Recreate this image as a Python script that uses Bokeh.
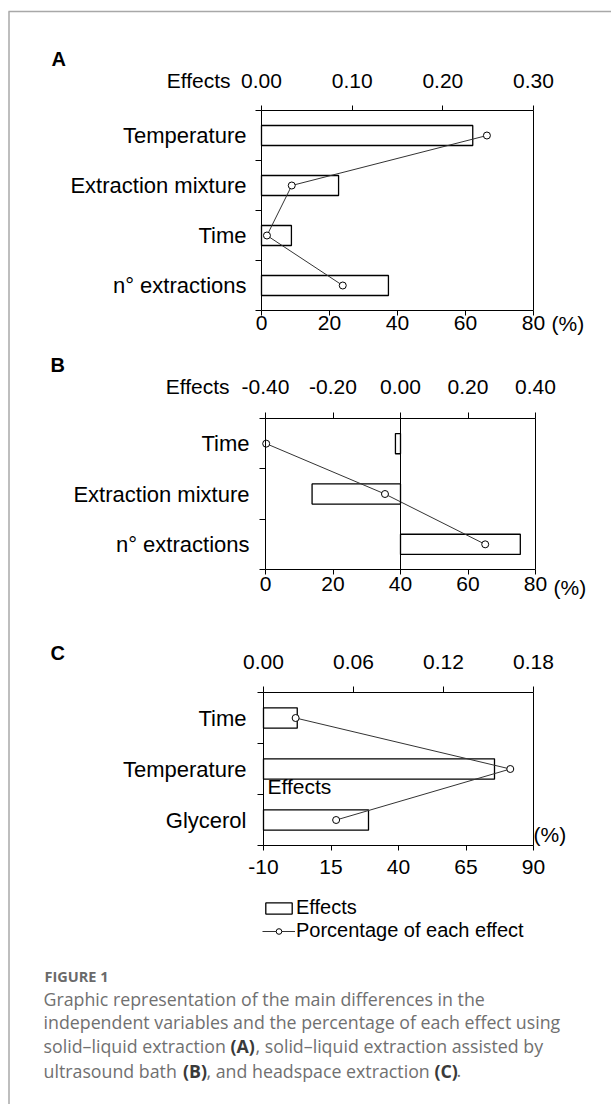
from bokeh.plotting import figure
from bokeh.models import (Range1d, LinearAxis, FixedTicker, Label, Legend,
                          LegendItem, NumeralTickFormatter)
from bokeh.embed import file_html
from bokeh.resources import INLINE

FONT = "Liberation Sans"
CAPFONT = "Open Sans"

# ---------------- data ----------------
a_factors = ["Temperature", "Extraction mixture", "Time", "n\u00b0 extractions"]
a_effects = [0.233, 0.085, 0.033, 0.140]
a_percent = [66.3, 8.9, 1.6, 23.9]
a_eff_ticks = [0.0, 0.1, 0.2, 0.3]
a_pct_ticks = [0, 20, 40, 60, 80]

b_factors = ["Time", "Extraction mixture", "n\u00b0 extractions"]
b_effects = [-0.015, -0.262, 0.355]
b_percent = [0.2, 35.4, 65.1]
b_eff_ticks = [-0.4, -0.2, 0.0, 0.2, 0.4]
b_pct_ticks = [0, 20, 40, 60, 80]

c_factors = ["Time", "Temperature", "Glycerol"]
c_effects = [0.0225, 0.154, 0.070]
c_percent = [1.9, 81.4, 16.9]
c_eff_ticks = [0.0, 0.06, 0.12, 0.18]
c_pct_ticks = [-10, 15, 40, 65, 90]

legend_labels = ["Effects", "Porcentage of each effect"]
caption_title = "FIGURE 1"
caption_lines = [
    "Graphic representation of the main differences in the",
    "independent variables and the percentage of each effect using",
]

# ---------------- canvas (page pixel space) ----------------
CW, CH = 611, 1104
p = figure(width=CW, height=CH, x_range=Range1d(0, CW), y_range=Range1d(CH, 0),
           x_axis_type=None, y_axis_type=None, min_border=0,
           min_border_left=0, min_border_right=0, min_border_top=0, min_border_bottom=0,
           output_backend="svg", toolbar_location=None, title=None)
p.xgrid.visible = False
p.ygrid.visible = False
p.outline_line_color = None
p.background_fill_color = "white"
p.border_fill_color = "white"

# page frame (decoration)
p.segment(x0=[8, 8.5], y0=[11, 11], x1=[CW, 8.5], y1=[11, CH],
          line_color="#a8a8a8", line_width=1.5)


def xmap(v0, v1, c0, c1):
    s = (v1 - v0) / (c1 - c0)
    return Range1d(v0 - c0 * s, v1 + (CW - c1) * s)


def ymap(v0, v1, c0, c1):
    s = (v1 - v0) / (c1 - c0)
    return Range1d(v0 + (CH - c0) * s, v0 - c0 * s)


def style_axis(ax, size="21px"):
    ax.axis_line_color = "black"
    ax.axis_line_width = 1
    ax.major_tick_line_color = "black"
    ax.minor_tick_line_color = "black"
    ax.major_tick_in = 0
    ax.minor_tick_in = 0
    ax.minor_tick_out = 0
    ax.major_label_text_font = FONT
    ax.major_label_text_font_size = size
    ax.major_label_text_color = "black"


def panel(key, factors, effects, percent, eff_ticks, pct_ticks,
          fx0, fx1, fy0, fy1, cat_standoff, top_standoff, bot_standoff, top_tick, bot_tick):
    n = len(factors)
    idx = list(range(n))
    xr, er, yr = key + "_pct", key + "_eff", key + "_y"
    p.extra_x_ranges[xr] = xmap(pct_ticks[0], pct_ticks[-1], fx0, fx1)
    p.extra_x_ranges[er] = xmap(eff_ticks[0], eff_ticks[-1], fx0, fx1)
    p.extra_y_ranges[yr] = ymap(-0.5, n - 0.5, fy0, fy1)

    # left category axis
    la = LinearAxis(x_range_name=xr, y_range_name=yr, fixed_location=pct_ticks[0],
                    bounds=(-0.5, n - 0.5),
                    ticker=FixedTicker(ticks=idx, minor_ticks=[i - 0.5 for i in range(n + 1)]),
                    major_label_overrides={i: f for i, f in zip(idx, factors)})
    style_axis(la, "22px")
    la.major_tick_out = 0
    la.minor_tick_out = 6
    la.major_label_standoff = cat_standoff
    p.add_layout(la, "left")

    # right frame edge
    ra = LinearAxis(x_range_name=xr, y_range_name=yr, fixed_location=pct_ticks[-1],
                    bounds=(-0.5, n - 0.5), ticker=FixedTicker(ticks=[], minor_ticks=[]))
    style_axis(ra)
    ra.major_tick_out = 0
    p.add_layout(ra, "right")

    # bottom percentage axis
    ba = LinearAxis(x_range_name=xr, y_range_name=yr, fixed_location=n - 0.5,
                    bounds=(pct_ticks[0], pct_ticks[-1]),
                    ticker=FixedTicker(ticks=pct_ticks, minor_ticks=[]),
                    formatter=NumeralTickFormatter(format="0"))
    style_axis(ba)
    ba.major_tick_out = bot_tick
    ba.major_label_standoff = bot_standoff
    p.add_layout(ba, "below")

    # top effects axis
    ta = LinearAxis(x_range_name=er, y_range_name=yr, fixed_location=-0.5,
                    bounds=(eff_ticks[0], eff_ticks[-1]),
                    ticker=FixedTicker(ticks=eff_ticks, minor_ticks=[]),
                    formatter=NumeralTickFormatter(format="0.00"))
    style_axis(ta)
    ta.major_tick_out = top_tick
    ta.major_label_standoff = top_standoff
    p.add_layout(ta, "above")

    bars = p.hbar(y=idx, left=0, right=effects, height=0.4,
                  x_range_name=er, y_range_name=yr,
                  fill_color="white", line_color="black", line_width=1.3)
    line = p.line(x=percent, y=idx, x_range_name=xr, y_range_name=yr,
                  line_color="#333333", line_width=1)
    pts = p.scatter(x=percent, y=idx, x_range_name=xr, y_range_name=yr,
                    marker="circle", size=7, fill_color="white",
                    line_color="black", line_width=1)
    return xr, er, yr, bars, line, pts


def add_label(text, x, y, xr, yr, dx, dy, align="left", bold=False, size="21px"):
    p.add_layout(Label(x=x, y=y, x_offset=dx, y_offset=dy, text=text,
                       x_range_name=xr, y_range_name=yr,
                       text_align=align, text_baseline="middle",
                       text_font=FONT, text_font_size=size,
                       text_font_style="bold" if bold else "normal",
                       text_color="black"))


# Panel A
xr, er, yr, *_ = panel("a", a_factors, a_effects, a_percent, a_eff_ticks, a_pct_ticks,
                       261, 533, 110, 310, cat_standoff=9, top_standoff=18, bot_standoff=0,
                       top_tick=5, bot_tick=5)
add_label("A", a_pct_ticks[0], -0.5, xr, yr, -210, 52, bold=True, size="20px")
add_label("Effects", a_eff_ticks[0], -0.5, er, yr, -31, 30, align="right")
add_label("(%)", a_pct_ticks[-1], len(a_factors) - 0.5, xr, yr, 18, -13)

# Panel B
xr, er, yr, *_ = panel("b", b_factors, b_effects, b_percent, b_eff_ticks, b_pct_ticks,
                       265, 535, 418, 569, cat_standoff=10, top_standoff=19, bot_standoff=2,
                       top_tick=6, bot_tick=5)
p.segment(x0=[0], y0=[-0.5], x1=[0], y1=[len(b_factors) - 0.5],
          x_range_name=er, y_range_name=yr, line_color="black", line_width=1)
add_label("B", b_pct_ticks[0], -0.5, xr, yr, -215, 54, bold=True, size="20px")
add_label("Effects", b_eff_ticks[0], -0.5, er, yr, -36, 32, align="right")
add_label("(%)", b_pct_ticks[-1], len(b_factors) - 0.5, xr, yr, 18, -18)

# Panel C
xr, er, yr, barsC, lineC, ptsC = panel("c", c_factors, c_effects, c_percent,
                                       c_eff_ticks, c_pct_ticks,
                                       263, 533, 692, 845, cat_standoff=11, top_standoff=18,
                                       bot_standoff=9, top_tick=6, bot_tick=5)
add_label("C", c_pct_ticks[0], -0.5, xr, yr, -213, 40, bold=True, size="20px")
add_label("Effects", c_pct_ticks[0], 1.5, xr, yr, 4, 8)
add_label("(%)", c_pct_ticks[-1], len(c_factors) - 0.5, xr, yr, 0, 11)

legend = Legend(items=[LegendItem(label=legend_labels[0], renderers=[barsC]),
                       LegendItem(label=legend_labels[1], renderers=[lineC, ptsC])],
                location=(262, 162), padding=0, margin=0, spacing=0,
                border_line_color=None, background_fill_alpha=0,
                glyph_width=33, glyph_height=14, label_standoff=1,
                label_height=20, label_text_font=FONT, label_text_font_size="20px",
                label_text_color="black")
p.add_layout(legend)

# Caption
GREY = "#707070"
DARK = "#3a3a3a"


def cap_text(t, x, y, bold=False, color=GREY, size="17.8px"):
    p.add_layout(Label(x=x, y=y, text=t, text_align="left", text_baseline="middle",
                       text_font=CAPFONT, text_font_size=size,
                       text_font_style="bold" if bold else "normal",
                       text_color=color))


cap_text(caption_title, 44, 975.5, bold=True, color="#6a6a6a", size="14.5px")
cap_text(caption_lines[0], 43, 998.3)
cap_text(caption_lines[1], 43, 1021.7)
cap_text("solid\u2013liquid extraction", 43, 1045.7)
cap_text("(A)", 230, 1045.7, bold=True, color=DARK)
cap_text(", solid\u2013liquid extraction assisted by", 255, 1045.7)
cap_text("ultrasound bath", 43, 1070)
cap_text("(B)", 182.5, 1070, bold=True, color=DARK)
cap_text(", and headspace extraction", 206, 1070)
cap_text("(C)", 434, 1070, bold=True, color=DARK)
cap_text(".", 456, 1070)

open("out.html", "w").write(file_html(p, INLINE))
